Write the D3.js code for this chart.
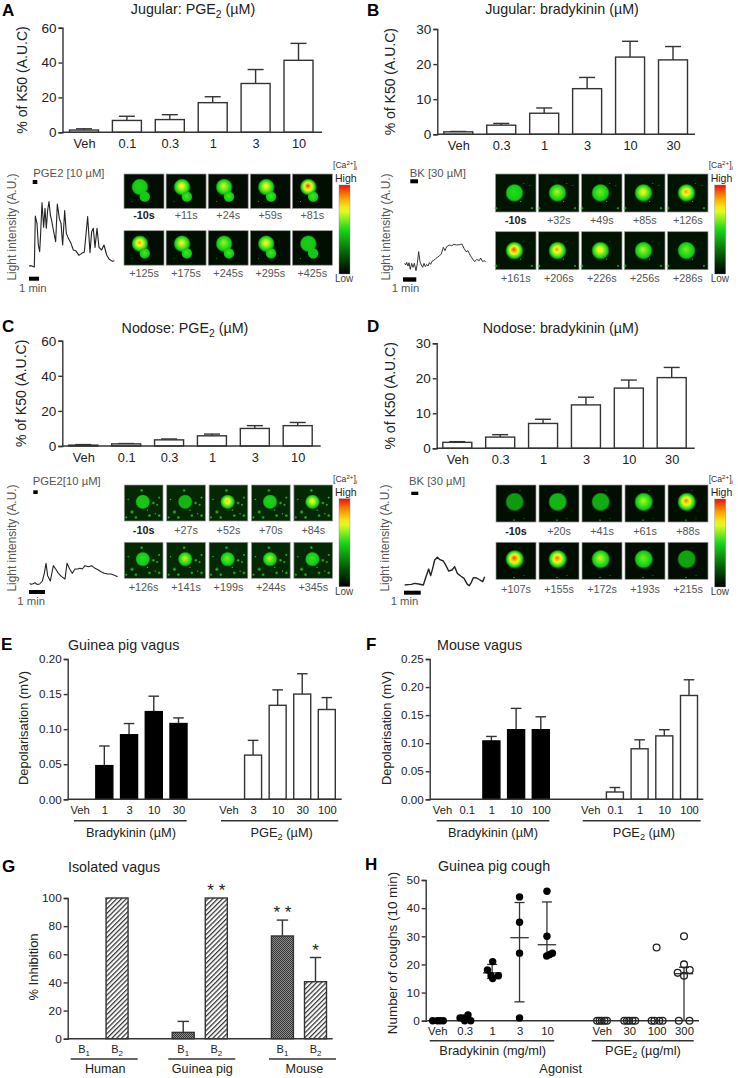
<!DOCTYPE html>
<html><head><meta charset="utf-8">
<script src="https://cdn.jsdelivr.net/npm/d3@7"></script>
<style>html,body{margin:0;padding:0;background:#fff}svg{display:block}text{font-family:"Liberation Sans",Arial,sans-serif;fill:#222}</style>
</head><body><svg id="c" width="738" height="1078"></svg>
<script>
// ---------- data ----------
const catsA=["Veh","0.1","0.3","1","3","10"];
const meanA=[1.3,6.8,7.3,17,28,41.3];
const topA=[2,9.2,10.1,20.4,36,51];
const catsB=["Veh","0.3","1","3","10","30"];
const meanB=[0.7,2.6,6,13,22,21.2];
const topB=[0.8,3.1,7.5,16.2,26.5,25];
const catsC=["Veh","0.1","0.3","1","3","10"];
const meanC=[0.5,1.2,3.5,5.8,10,11.6];
const topC=[0.8,1.4,4,6.8,11.6,13.4];
const catsD=["Veh","0.3","1","3","10","30"];
const meanD=[1.7,3.2,7.1,12.4,17.2,20.2];
const topD=[1.9,3.9,8.3,14.6,19.5,23.1];

const labelsA=[["-10s","+11s","+24s","+59s","+81s"],["+125s","+175s","+245s","+295s","+425s"]];
const labelsB=[["-10s","+32s","+49s","+85s","+126s"],["+161s","+206s","+226s","+256s","+286s"]];
const labelsC=[["-10s","+27s","+52s","+70s","+84s"],["+126s","+141s","+199s","+244s","+345s"]];
const labelsD=[["-10s","+20s","+41s","+61s","+88s"],["+107s","+155s","+172s","+193s","+215s"]];
const peaksA=[[.5,.76,.7,.76,.97],[.86,.74,.64,.76,.48]];
const peaksB=[[.52,.66,.6,.76,.86],[.96,.86,.78,.66,.6]];
const peaksC=[[.46,.42,.82,.5,.76],[.52,.68,.6,.66,.54]];
const peaksD=[[.36,.42,.4,.66,.9],[.96,.92,.68,.6,.38]];
const cellsA=[[.40,.38,.19,1],[.52,.66,.125,.55]];
const cellsB=[[.47,.5,.2,1]];
const cellsC=[[.48,.47,.17,1]];
const cellsD=[[.47,.46,.21,1]];
const specksA=[[.2,.8,.02]];
const specksB=[[.7,.25,.02],[.62,.72,.025],[.01,.9,.05],[.9,.9,.04],[.85,.3,.02]];
const specksC=[[.45,.15,.05],[.75,.5,.05],[.85,.55,.04],[.9,.35,.04],[.2,.75,.06],[.3,.9,.05],[.65,.85,.05],[.9,.85,.05],[.1,.4,.03],[.6,.7,.03],[.05,.9,.04],[.8,.8,.03]];
const specksD=[[.45,.95,.03],[.6,.15,.02],[.7,.9,.02]];

// raw trace readings (time, intensity) in digitiser units
const traceA=[[12,27],[18,28],[28,24],[31,177],[36,155],[40,90],[44,70],[47,125],[51,217],[56,143],[60,200],[64,140],[68,195],[72,220],[76,180],[80,163],[85,135],[92,100],[97,213],[103,170],[108,155],[113,90],[119,193],[124,125],[130,110],[138,95],[145,75],[152,73],[162,59],[170,65],[178,69],[188,175],[195,67],[200,130],[205,140],[210,83],[216,140],[222,83],[230,75],[237,90],[245,60],[252,48],[262,41],[268,43]];
const traceB=[[14,50],[17,45],[20,53],[24,42],[27,52],[31,32],[35,50],[39,38],[43,50],[48,28],[52,50],[56,85],[60,55],[64,45],[68,38],[72,50],[76,40],[80,47],[84,42],[88,52],[92,47],[96,56],[100,58],[106,63],[112,68],[118,72],[124,78],[130,98],[135,88],[140,100],[148,105],[155,103],[162,107],[170,105],[178,106],[186,108],[192,95],[198,85],[204,88],[210,75],[218,63],[224,55],[230,62],[238,58],[242,66],[248,55],[252,58],[257,55]];
const traceC=[[14,35],[18,32],[24,34],[30,37],[36,32],[44,33],[52,42],[58,65],[63,95],[68,58],[76,42],[85,88],[92,78],[100,65],[110,55],[120,48],[126,95],[134,78],[142,65],[150,78],[158,78],[165,80],[172,78],[180,88],[190,85],[200,88],[210,80],[220,75],[228,70],[238,65],[248,63],[258,63],[268,59],[278,55]];
const traceD=[[14,30],[24,31],[34,32],[44,35],[56,33],[70,30],[78,55],[86,78],[92,58],[98,80],[104,105],[112,113],[120,106],[130,102],[138,88],[146,72],[156,75],[164,85],[172,65],[182,57],[192,50],[202,32],[208,28],[214,38],[220,52],[230,51],[240,45],[248,40],[254,55]];

const catsE1=["Veh","1","3","10","30"];
const meanE1=[null,.048,.092,.125,.108];
const topE1=[null,.076,.108,.147,.116];
const catsE2=["Veh","3","10","30","100"];
const meanE2=[null,.063,.134,.15,.128];
const topE2=[null,.084,.156,.179,.145];
const catsF1=["Veh","0.1","1","10","100"];
const meanF1=[null,null,.104,.124,.124];
const topF1=[null,null,.112,.162,.147];
const catsF2=["Veh","0.1","1","10","100"];
const meanF2=[null,.013,.09,.113,.185];
const topF2=[null,.021,.106,.124,.213];

const catsG=["Human|1","Human|2","gap1","Guinea pig|1","Guinea pig|2","gap2","Mouse|1","Mouse|2"];
const meanG=[null,100,null,4.5,100,null,73,40.5];
const topG=[null,null,null,12.3,null,null,84.3,57.7];
const starsG=[null,null,null,null,"* *",null,"* *","*"];

const catsH=["B|Veh","B|0.3","B|1","B|3","B|10","gap","P|Veh","P|30","P|100","P|300"];
// [category, horizontal offset in slots, coughs]
const pointsHB=[["B|Veh",-.17,0],["B|Veh",0,0],["B|Veh",.1,0],["B|Veh",.22,0],
 ["B|0.3",-.17,1],["B|0.3",-.06,1],["B|0.3",.12,2],["B|0.3",0,0],["B|0.3",.22,0],
 ["B|1",-.17,18],["B|1",.02,21],["B|1",.02,15],["B|1",-.04,16],["B|1",.23,16],
 ["B|3",0,44],["B|3",0,35],["B|3",0,24],["B|3",0,1],
 ["B|10",0,46],["B|10",0,30],["B|10",-.01,23],["B|10",.2,24],["B|10",.1,23.5]];
const pointsHP=[["P|Veh",-.17,0],["P|Veh",-.08,0],["P|Veh",0,0],["P|Veh",.1,0],["P|Veh",.19,0],
 ["P|30",-.18,0],["P|30",-.08,0],["P|30",0,0],["P|30",.12,0],["P|30",.22,0],
 ["P|100",-.18,0],["P|100",-.08,0],["P|100",.1,0],["P|100",.22,0],["P|100",0,26],
 ["P|300",0,30],["P|300",0,20],["P|300",0,16],["P|300",-.23,17],["P|300",.21,18],["P|300",-.19,0],["P|300",.2,0]];
// [category, mean, low, high]
const statsH=[["B|1",17,15,20],["B|3",29.5,6.7,42],["B|10",27,24,42.2],["P|300",16.7,0,19]];

// ---------- helpers ----------
const svg=d3.select("#c"), defs=svg.append("defs"), ink="#333";
function txt(x,y,s,size,o={}){
  const t=svg.append("text").attr("x",x).attr("y",y).attr("font-size",size)
    .attr("text-anchor",o.anchor||"start");
  if(o.weight)t.attr("font-weight",o.weight);
  if(o.fill)t.style("fill",o.fill);
  if(o.rot!==undefined)t.attr("transform",`rotate(${o.rot} ${x} ${y})`);
  // _x_ denotes subscript, ^x^ superscript
  let carry=0;
  s.split(/(_[^_]+_|\^[^^]+\^)/).forEach(part=>{
    if(!part)return;
    if(part[0]==="_"){t.append("tspan").attr("dy",carry+size*.25).attr("font-size",size*.72).text(part.slice(1,-1));carry=-size*.25;}
    else if(part[0]==="^"){t.append("tspan").attr("dy",carry-size*.3).attr("font-size",size*.72).text(part.slice(1,-1));carry=size*.3;}
    else {t.append("tspan").attr("dy",carry).text(part);carry=0;}
  });
  return t;
}
function yAxis(y,ax,fmt,size,ticks){
  const g=svg.append("g").attr("transform",`translate(${ax},0)`)
    .call(d3.axisLeft(y).tickValues(ticks).tickFormat(fmt).tickSize(4).tickPadding(2));
  g.selectAll("line,path").attr("stroke",ink).attr("stroke-width",1.4);
  g.selectAll("text").attr("font-size",size).style("fill","#222").attr("font-family",'"Liberation Sans",Arial,sans-serif');
}
function baseline(x0,x1,yy){svg.append("line").attr("x1",x0).attr("x2",x1).attr("y1",yy).attr("y2",yy).attr("stroke",ink).attr("stroke-width",1.4);}
function xLabels(x,yy,size,fmt,skip){
  const g=svg.append("g").attr("transform",`translate(0,${yy})`)
    .call(d3.axisBottom(x).tickSize(0).tickPadding(0).tickFormat(fmt||(d=>d)));
  g.select(".domain").remove();
  g.selectAll("text").attr("font-size",size).attr("dy",0).attr("y",0).style("fill","#222").attr("font-family",'"Liberation Sans",Arial,sans-serif');
  if(skip)g.selectAll(".tick").filter(skip).remove();
}
function bars(x,y,cats,means,tops,w,capHalf,fill,stroke){
  const d=cats.map((c,i)=>({c,m:means[i],t:tops[i]})).filter(e=>e.m!==null);
  svg.append("g").selectAll("line").data(d.filter(e=>e.t!==null)).join("line")
    .attr("x1",e=>x(e.c)).attr("x2",e=>x(e.c)).attr("y1",e=>y(e.m)).attr("y2",e=>y(e.t)).attr("stroke",ink).attr("stroke-width",1.4);
  svg.append("g").selectAll("line").data(d.filter(e=>e.t!==null)).join("line")
    .attr("x1",e=>x(e.c)-capHalf).attr("x2",e=>x(e.c)+capHalf).attr("y1",e=>y(e.t)).attr("y2",e=>y(e.t)).attr("stroke",ink).attr("stroke-width",1.4);
  svg.append("g").selectAll("rect").data(d).join("rect")
    .attr("x",e=>x(e.c)-w/2).attr("width",w).attr("y",e=>y(e.m)).attr("height",e=>y(0)-y(e.m))
    .attr("fill",typeof fill==="function"?e=>fill(e.c):fill).attr("stroke",stroke||ink).attr("stroke-width",1.4);
}
const heat=d3.scaleLinear().domain([0,.18,.5,.72,.86,1])
  .range(["#000000","#004a00","#18d818","#f0ff20","#ff9a00","#e81010"]).clamp(true);
let gid=0;
function cellGradient(p){
  const id="g"+(gid++),g=defs.append("radialGradient").attr("id",id).attr("fx",.46).attr("fy",.42);
  const edge=Math.min(p,.46);
  d3.range(0,1.001,.1).forEach(t=>{
    const v=t<.8? edge+(p-edge)*Math.pow(1-t/.8,.85):edge;
    g.append("stop").attr("offset",t).attr("stop-color",heat(v)).attr("stop-opacity",t<.8?1:Math.max(0,1-(t-.8)/.2));
  });
  return id;
}
const speckId=(()=>{const g=defs.append("radialGradient").attr("id","sp");
  g.append("stop").attr("offset",0).attr("stop-color","#30d030");
  g.append("stop").attr("offset",1).attr("stop-color","#30d030").attr("stop-opacity",0);return "sp";})();
function frames(o){
  o.peaks.forEach((row,r)=>row.forEach((p,c)=>{
    const fx=d3.scaleLinear().range([o.xs+c*o.step,o.xs+c*o.step+o.w]);
    const fy=d3.scaleLinear().range([o.ys[r],o.ys[r]+o.h]);
    svg.append("rect").attr("x",fx(0)).attr("y",fy(0)).attr("width",o.w).attr("height",o.h).attr("fill",o.bg).attr("stroke","#999").attr("stroke-width",.7);
    svg.append("g").selectAll("circle").data(o.specks).join("circle")
      .attr("cx",s=>fx(s[0])).attr("cy",s=>fy(s[1])).attr("r",s=>s[2]*o.w).attr("fill",`url(#${speckId})`);
    o.cells.forEach(cell=>{
      const peak=cell[3]<1?Math.min(.56,p*.75+.1):p;
      svg.append("circle").attr("cx",fx(cell[0])).attr("cy",fy(cell[1])).attr("r",cell[2]*o.w*1.15)
        .attr("fill",`url(#${cellGradient(peak)})`);
    });
    const lab=o.labels[r][c];
    txt(fx(.5),o.lys[r],lab,10.8,{anchor:"middle",fill:lab==="-10s"?"#222":"#555",weight:lab==="-10s"?"bold":null});
  }));
  // colour bar
  const id="cb"+(gid++),g=defs.append("linearGradient").attr("id",id).attr("x1",0).attr("x2",0).attr("y1",1).attr("y2",0);
  d3.range(0,1.001,.05).forEach(t=>g.append("stop").attr("offset",t).attr("stop-color",heat(t)));
  svg.append("rect").attr("x",o.cb[0]).attr("y",o.cb[1]).attr("width",11).attr("height",o.cb[2]).attr("fill",`url(#${id})`).attr("stroke","#888").attr("stroke-width",.4);
  txt(o.cb[0]-6,o.cb[1]-17,"[Ca^2+^]_i_",8.6,{fill:"#333"});
  txt(o.cb[0]-4,o.cb[1]-3,"High",10.5,{fill:"#222"});
  txt(o.cb[0]-4,o.cb[1]+o.cb[2]+8,"Low",10,{fill:"#444"});
}
function trace(d,box,sw){
  const x=d3.scaleLinear().domain([0,285]).range([box[0],box[0]+95]);
  const y=d3.scaleLinear().domain([0,box[2]]).range([box[1]+box[2]/3,box[1]]);
  svg.append("path").attr("d",d3.line().x(p=>x(p[0])).y(p=>y(p[1]))(d)).attr("fill","none").attr("stroke","#222").attr("stroke-width",sw).attr("stroke-linejoin","round");
}
function blackBar(x0,x1,y0,y1){svg.append("rect").attr("x",x0).attr("y",y0).attr("width",x1-x0).attr("height",y1-y0).attr("fill","#000");}

function topPanel(o){
  const x=d3.scalePoint().domain(o.cats).range(o.xr);
  const y=d3.scaleLinear().domain([0,o.max]).range(o.yr);
  bars(x,y,o.cats,o.mean,o.top,29,8,"#fff");
  yAxis(y,o.ax,d=>d,13.5,o.ticks);
  baseline(o.ax,o.end,o.yr[0]);
  xLabels(x,o.yr[0]+15.5,12.8);
  txt(o.yl,(o.yr[0]+o.yr[1])/2,"% of K50 (A.U.C)",14,{anchor:"middle",rot:-90});
  txt(o.tx,o.ty,o.title,14.3,{anchor:"middle"});
}

// panel letters
[["A",2,16],["B",367,16],["C",2,332],["D",367,332],["E",1,650],["F",366,650],["G",2,872],["H",365,870]]
 .forEach(l=>txt(l[1],l[2],l[0],17,{weight:"bold",fill:"#000"}));

// ---------- A-D ----------
topPanel({cats:catsA,mean:meanA,top:topA,max:60,ticks:[0,20,40,60],ax:62.5,end:322,xr:[84,298.5],yr:[132.3,27.7],yl:26.5,title:"Jugular: PGE_2_ (µM)",tx:193,ty:14});
topPanel({cats:catsB,mean:meanB,top:topB,max:30,ticks:[0,10,20,30],ax:437.3,end:695,xr:[458.3,673],yr:[134.3,29],yl:395,title:"Jugular: bradykinin (µM)",tx:562,ty:14});
topPanel({cats:catsC,mean:meanC,top:topC,max:60,ticks:[0,20,40,60],ax:62.3,end:320.7,xr:[83.3,297.7],yr:[446,340.7],yl:26.5,title:"Nodose: PGE_2_ (µM)",tx:185,ty:333});
topPanel({cats:catsD,mean:meanD,top:topD,max:30,ticks:[0,10,20,30],ax:436.7,end:694.7,xr:[457.3,671.7],yr:[448.3,343.3],yl:395,title:"Nodose: bradykinin (µM)",tx:560.7,ty:333});

frames({peaks:peaksA,labels:labelsA,cells:cellsA,specks:specksA,xs:124,step:42.1,w:40,h:34.5,ys:[174,230.7],lys:[219,277],cb:[339,185,89],bg:"#010e01"});
frames({peaks:peaksB,labels:labelsB,cells:cellsB,specks:specksB,xs:495.5,step:43,w:40.5,h:38,ys:[174,231.7],lys:[224,282],cb:[714.7,185,89],bg:"#011401"});
frames({peaks:peaksC,labels:labelsC,cells:cellsC,specks:specksC,xs:124.3,step:42.4,w:38.7,h:36,ys:[485,542.3],lys:[534,591],cb:[339,498.7,88],bg:"#042804"});
frames({peaks:peaksD,labels:labelsD,cells:cellsD,specks:specksD,xs:496,step:43,w:40,h:37,ys:[485,542.3],lys:[535,593],cb:[714.7,499,88],bg:"#020e02"});

trace(traceA,[25,190,255],1.1);
trace(traceB,[400,230,150],.9);
trace(traceC,[25,545,150],1.1);
trace(traceD,[400,545,150],1.4);

[[16,227],[389.7,227],[16,538],[388.7,538]]
 .forEach(d=>txt(d[0],d[1],"Light intensity (A.U.)",11.9,{anchor:"middle",rot:-90,fill:"#555"}));
txt(33.3,176.7,"PGE2 [10 µM]",11.3,{fill:"#555"}); blackBar(32.7,37.3,180,184); blackBar(29,39,276.7,280.7); txt(19,291.7,"1 min",11.3,{fill:"#555"});
txt(409.7,176.7,"BK [30 µM]",11.3,{fill:"#555"}); blackBar(410.3,418,179.3,183.3); blackBar(403,416.3,277.3,281.7); txt(391.7,292,"1 min",11.3,{fill:"#555"});
txt(32.7,485,"PGE2[10 µM]",11.3,{fill:"#555"}); blackBar(33.3,37.7,490.3,494); blackBar(29,45,590,594); txt(17.3,605,"1 min",11.3,{fill:"#555"});
txt(409,485,"BK [30 µM]",11.3,{fill:"#555"}); blackBar(411.3,418.3,491.7,495); blackBar(404,420.7,590.7,594.7); txt(390.7,605,"1 min",11.3,{fill:"#555"});

// ---------- E, F ----------
function vagus(o){
  const y=d3.scaleLinear().domain([0,o.max]).range([799.3,659]);
  const x1=d3.scalePoint().domain(o.c1).range(o.r1), x2=d3.scalePoint().domain(o.c2).range(o.r2);
  bars(x1,y,o.c1,o.m1,o.t1,17,5.3,"#000","#000");
  bars(x2,y,o.c2,o.m2,o.t2,17,5.3,"#fff");
  yAxis(y,o.ax,d3.format(".2f"),11.6,o.ticks);
  baseline(o.ax,o.end,799.3);
  xLabels(x1,814,11.2);xLabels(x2,814,11.2);
  baseline(o.l1[0],o.l1[1],820.7);baseline(o.l2[0],o.l2[1],820.7);
  txt(o.gx[0],836.5,"Bradykinin (µM)",12.8,{anchor:"middle"});
  txt(o.gx[1],836.5,"PGE_2_ (µM)",12.8,{anchor:"middle"});
  txt(o.tl,650,o.title,14.3,{});
  txt(o.yl,728,"Depolarisation (mV)",12.9,{anchor:"middle",rot:-90});
}
vagus({max:.2,ticks:[0,.05,.1,.15,.2],ax:67.7,end:341.7,c1:catsE1,m1:meanE1,t1:topE1,c2:catsE2,m2:meanE2,t2:topE2,r1:[79.6,178.5],r2:[228.5,326.8],l1:[74,186.7],l2:[221,338.3],gx:[131,281.7],title:"Guinea pig vagus",tl:68,yl:27.5});
vagus({max:.25,ticks:[0,.05,.1,.15,.2,.25],ax:429.7,end:703.3,c1:catsF1,m1:meanF1,t1:topF1,c2:catsF2,m2:meanF2,t2:topF2,r1:[442,540.8],r2:[590.2,689],l1:[436.7,549.3],l2:[582.7,700.7],gx:[493,644],title:"Mouse vagus",tl:437,yl:390.5});

// ---------- G ----------
{
  const p1=defs.append("pattern").attr("id","hatch").attr("width",3.4).attr("height",3.4).attr("patternUnits","userSpaceOnUse").attr("patternTransform","rotate(45)");
  p1.append("rect").attr("width",3.4).attr("height",3.4).attr("fill","#fff");
  p1.append("rect").attr("width",1.25).attr("height",3.4).attr("fill","#333");
  const p2=defs.append("pattern").attr("id","dots").attr("width",2).attr("height",2).attr("patternUnits","userSpaceOnUse");
  p2.append("rect").attr("width",2).attr("height",2).attr("fill","#909090");
  p2.append("rect").attr("width",1).attr("height",1).attr("fill","#333");
  p2.append("rect").attr("x",1).attr("y",1).attr("width",1).attr("height",1).attr("fill","#333");
  const y=d3.scaleLinear().domain([0,100]).range([1038.7,898]);
  const x=d3.scalePoint().domain(catsG).range([84,315.5]);
  bars(x,y,catsG,meanG,topG,22,5.7,c=>c.endsWith("|2")?"url(#hatch)":"url(#dots)");
  yAxis(y,67.7,d=>d,11.8,[0,20,40,60,80,100]);
  baseline(67.7,332.7,1038.7);
  catsG.forEach(c=>{if(c.startsWith("gap"))return;
    txt(x(c),1053,"B_"+c.split("|")[1]+"_",11,{anchor:"middle"});});
  [[70.7,137.7],[168.3,235.3],[269,336]].forEach(l=>baseline(l[0],l[1],1059));
  [["Human",105.3],["Guinea pig",202.3],["Mouse",304.3]].forEach(l=>txt(l[1],1073,l[0],12.6,{anchor:"middle"}));
  catsG.forEach((c,i)=>{if(starsG[i]){
    const t=topG[i]===null?meanG[i]:topG[i];
    txt(x(c),y(t)-2,starsG[i],17,{anchor:"middle"});}});
  txt(68,872,"Isolated vagus",14.3,{});
  txt(38,967,"% Inhibition",13,{anchor:"middle",rot:-90});
}

// ---------- H ----------
{
  const y=d3.scaleLinear().domain([0,50]).range([1020.7,880]);
  const x=d3.scalePoint().domain(catsH).range([437.3,684]);
  yAxis(y,425.7,d=>d,11.8,[0,10,20,30,40,50]);
  baseline(425.7,699,1020.7);
  xLabels(x,1035,11.3,d=>d.split("|")[1]||"",d=>d==="gap");
  const cap=(c,v,h)=>svg.append("line").attr("x1",x(c)-h).attr("x2",x(c)+h).attr("y1",y(v)).attr("y2",y(v)).attr("stroke",ink).attr("stroke-width",1.3);
  statsH.forEach(s=>{
    svg.append("line").attr("x1",x(s[0])).attr("x2",x(s[0])).attr("y1",y(s[2])).attr("y2",y(s[3])).attr("stroke",ink).attr("stroke-width",1.3);
    cap(s[0],s[1],9.2);cap(s[0],s[3],5);if(s[2]>0&&s[0]!=="B|10")cap(s[0],s[2],5);
  });
  const step=x.step();
  svg.append("g").selectAll("circle").data(pointsHB).join("circle")
    .attr("cx",p=>x(p[0])+p[1]*step).attr("cy",p=>y(p[2])).attr("r",3.7).attr("fill","#000");
  svg.append("g").selectAll("circle").data(pointsHP).join("circle")
    .attr("cx",p=>x(p[0])+p[1]*step).attr("cy",p=>y(p[2])).attr("r",3.4).attr("fill","none").attr("stroke","#222").attr("stroke-width",1.3);
  baseline(429.7,554.3,1040.7);baseline(591.7,693.7,1040.7);
  txt(492.7,1055,"Bradykinin (mg/ml)",12.8,{anchor:"middle"});
  txt(643,1055,"PGE_2_ (µg/ml)",12.8,{anchor:"middle"});
  txt(560.7,1073,"Agonist",12.8,{anchor:"middle"});
  txt(438,871,"Guinea pig cough",14.3,{});
  txt(397.3,953,"Number of coughs (10 min)",13.4,{anchor:"middle",rot:-90});
}
</script></body></html>
